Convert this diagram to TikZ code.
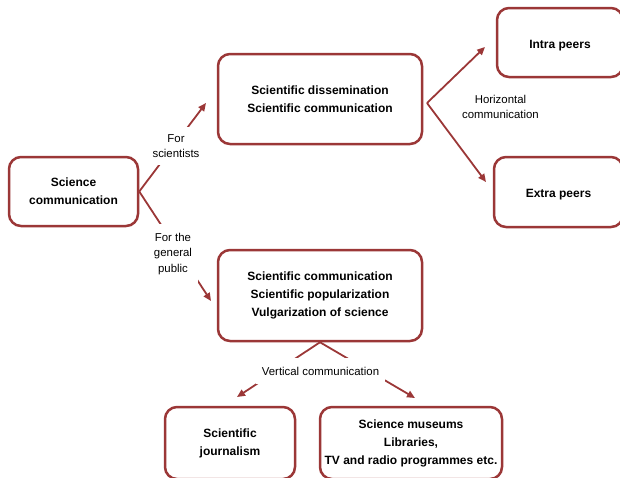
\documentclass[tikz,border=0pt]{standalone}
\usepackage{fontspec}
\setmainfont{Liberation Sans}
\usetikzlibrary{arrows.meta}
\definecolor{dred}{RGB}{155,55,55}
\begin{document}
\begin{tikzpicture}[x=1pt,y=-1pt,
  box/.style={draw=dred, line width=2.5pt, rounded corners=12pt, fill=white, align=center,
    font=\bfseries\fontsize{12}{18}\selectfont, inner sep=0pt},
  lbl/.style={fill=white, align=center, font=\fontsize{11.4}{15.7}\selectfont, inner xsep=3pt},
  conn/.style={draw=dred, line width=1.8pt},
  arr/.style={conn, -{Triangle[length=8pt,width=7pt]}}]
\useasboundingbox (0,0) rectangle (620,477);
\clip (0,0) rectangle (620,477);
% boxes
\node[box, minimum width=129pt, minimum height=69pt] (sc) at (73.5,191.5) {Science\\communication};
\node[box, minimum width=204pt, minimum height=90pt] (sd) at (320,99) {Scientific dissemination\\Scientific communication};
\node[box, minimum width=126pt, minimum height=69pt] (ip) at (560,42.5) {\raisebox{-3pt}[8.7pt][2.5pt]{Intra peers}};
\node[box, minimum width=129pt, minimum height=70pt] (ep) at (558.5,192) {\raisebox{-2pt}[8.7pt][2.5pt]{Extra peers}};
\node[box, minimum width=204pt, minimum height=91pt] (mp) at (320,295.5) {Scientific communication\\Scientific popularization\\Vulgarization of science};
\node[box, minimum width=130pt, minimum height=72pt] (sj) at (230,443) {Scientific\\journalism};
\node[box, minimum width=182pt, minimum height=72pt] (sm) at (411,443) {Science museums\\Libraries,\\TV and radio programmes etc.};
% connector ends
\coordinate (tA) at (206,103);
\coordinate (tB) at (211,301);
\coordinate (hA) at (427,103);
\coordinate (tC) at (485,47);
\coordinate (tD) at (486,182);
\coordinate (tE) at (237,397);
\coordinate (tF) at (415,398);
% connectors
\draw[arr] (sc.east) -- (tA);
\draw[arr] (sc.east) -- (tB);
\draw[arr] (hA) -- (tC);
\draw[arr] (hA) -- (tD);
\draw[arr] (mp.south) -- (tE);
\draw[arr] (mp.south) -- (tF);
% labels
\node[lbl, inner ysep=7.5pt] (ls) at (176,146) {For\\scientists};
\node[lbl, inner ysep=9pt, inner xsep=6pt] (lg) at (173,254) {For the\\general\\public};
\node[lbl] (lh) at (500.5,107) {Horizontal\\communication};
\node[lbl, inner ysep=8.5pt, inner xsep=6pt] (lv) at (320.5,371) {Vertical communication};
\end{tikzpicture}
\end{document}
